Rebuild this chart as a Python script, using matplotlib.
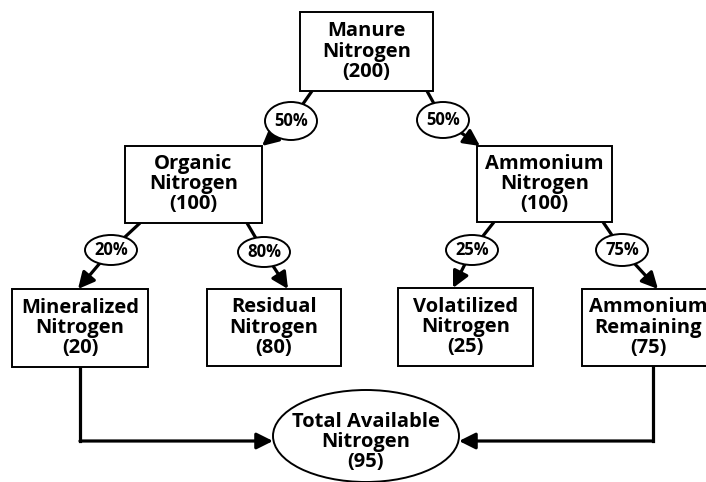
import matplotlib.pyplot as plt
from matplotlib.patches import Rectangle, Ellipse, FancyArrowPatch

# node labels and amounts (lb N)
node_names = ["Manure\nNitrogen", "Organic\nNitrogen", "Ammonium\nNitrogen",
              "Mineralized\nNitrogen", "Residual\nNitrogen",
              "Volatilized\nNitrogen", "Ammonium\nRemaining"]
node_values = [200, 100, 100, 20, 80, 25, 75]

# splits parent -> child with percent
split_from = [0, 0, 1, 1, 2, 2]
split_to = [1, 2, 3, 4, 5, 6]
split_pct = [50, 50, 20, 80, 25, 75]

total_name = "Total Available\nNitrogen"
total_value = 95
feeds_total = [3, 6]

# layout, in pixels of the 706x482 picture
box_xy = [(300, 12, 433, 91), (125, 146, 262, 223), (477, 146, 612, 222),
          (12, 289, 148, 367), (207, 289, 341, 366), (398, 288, 533, 366),
          (582, 289, 722, 366)]
bubble_c = [(291, 121), (443, 120), (111, 250), (264, 252), (472, 250), (622, 250)]
bubble_h = [38, 36, 30, 30, 30, 32]
edge_start = [(312, 91), (427, 91), (140, 223), (247, 223), (494, 222), (603, 222)]
edge_tip = [(262, 146), (480, 146), (78, 289), (288, 289), (453, 288), (658, 289)]
feed_x = [80, 653]
feed_y = 441
total_c = (366, 436)
total_w, total_h = 186, 92

plt.rcParams['font.family'] = ['Open Sans', 'DejaVu Sans']

fig = plt.figure(figsize=(7.06, 4.82), dpi=100)
ax = fig.add_axes([0, 0, 1, 1])
ax.set_xlim(0, 706)
ax.set_ylim(482, 0)
ax.axis('off')

arrow_style = '-|>,head_length=0.7,head_width=0.35'

for i, (n, v) in enumerate(zip(node_names, node_values)):
    x0, y0, x1, y1 = box_xy[i]
    ax.add_patch(Rectangle((x0, y0), x1 - x0, y1 - y0, fc='white', ec='black',
                           lw=1.4, zorder=2))
    ax.text((x0 + x1) / 2 - (4 if i == 6 else 0), (y0 + y1) / 2, f"{n}\n({v})",
            ha='center', va='center', fontsize=14.5, fontweight='bold',
            linespacing=1.0, zorder=4)

for k in range(len(split_pct)):
    cx, cy = bubble_c[k]
    ax.plot([edge_start[k][0], cx], [edge_start[k][1], cy], color='black', lw=2.3,
            solid_capstyle='butt', zorder=1)
    ax.add_patch(FancyArrowPatch((cx, cy), edge_tip[k], arrowstyle=arrow_style,
                                 mutation_scale=14, lw=2.3, color='black',
                                 shrinkA=0, shrinkB=0, zorder=1))
    ax.add_patch(Ellipse((cx, cy), 52, bubble_h[k], fc='white', ec='black',
                         lw=1.4, zorder=3))
    ax.text(cx, cy, f"{split_pct[k]}%", ha='center', va='center', fontsize=12,
            fontweight='bold', zorder=4)

# feeds into the total
for j, idx in enumerate(feeds_total):
    y_bot = box_xy[idx][3]
    x = feed_x[j]
    end_x = total_c[0] - total_w / 2 if x < total_c[0] else total_c[0] + total_w / 2
    ax.plot([x, x], [y_bot, feed_y], color='black', lw=2.3,
            solid_capstyle='projecting', zorder=1)
    ax.add_patch(FancyArrowPatch((x, feed_y), (end_x, feed_y),
                                 arrowstyle=arrow_style, mutation_scale=14, lw=2.3,
                                 color='black', shrinkA=0, shrinkB=0, zorder=1))

ax.add_patch(Ellipse(total_c, total_w, total_h, fc='white', ec='black', lw=1.4,
                     zorder=3))
ax.text(total_c[0], total_c[1] + 6, f"{total_name}\n({total_value})", ha='center',
        va='center', fontsize=14.5, fontweight='bold', linespacing=1.0, zorder=4)

fig.savefig('out.png', dpi=100)
